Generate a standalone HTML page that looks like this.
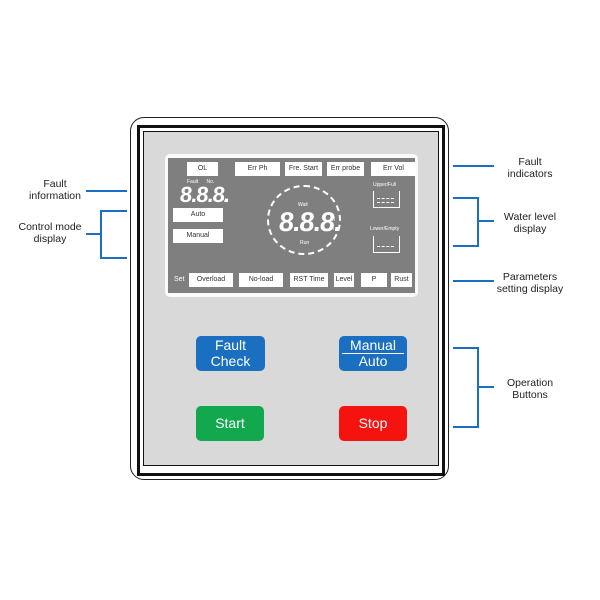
<!DOCTYPE html>
<html><head><style>
body{margin:0;width:600px;height:600px;background:#fff;position:relative;font-family:"Liberation Sans",sans-serif;overflow:hidden}
.a{position:absolute}
.lbl{position:absolute;font-size:10.5px;color:#222;text-align:center;line-height:12px}
.bx{position:absolute;background:#fff;font-size:7px;color:#333;text-align:center;line-height:14px;height:14px}
.btn{position:absolute;border-radius:5px;color:#fff;text-align:center;font-size:14px}
.seg{position:absolute;color:#fff;font-weight:bold;letter-spacing:-1px;transform:skewX(-6deg)}
</style></head><body>
<div class="a" style="left:130px;top:117px;width:317px;height:361px;border:1.5px solid #222;border-radius:14px"></div>
<div class="a" style="left:137px;top:125px;width:302px;height:345px;border:3px solid #111"></div>
<div class="a" style="left:143px;top:131px;width:294px;height:333px;border:1px solid #111;background:#d9d9d9"></div>
<div class="a" style="left:165px;top:154px;width:253px;height:143px;background:#fafafa;border-radius:5px"></div>
<div class="a" style="left:168px;top:158px;width:247px;height:135px;background:#7f7f7f"></div>
<div class="bx" style="left:187px;top:162px;width:31px">OL</div>
<div class="bx" style="left:235px;top:162px;width:45px">Err Ph</div>
<div class="bx" style="left:285px;top:162px;width:37px">Fre. Start</div>
<div class="bx" style="left:327px;top:162px;width:37px">Err probe</div>
<div class="bx" style="left:371px;top:162px;width:45px">Err Vol</div>
<div class="a" style="left:187px;top:179px;font-size:5px;color:#fff">Fault&nbsp;&nbsp;&nbsp;&nbsp;&nbsp;&nbsp;No.</div>
<div class="seg" style="left:180px;top:182px;font-size:22px">8.8.8.</div>
<div class="a" style="left:223px;top:198px;font-size:5px;color:#fff">V</div>
<div class="bx" style="left:173px;top:208px;width:50px">Auto</div>
<div class="bx" style="left:173px;top:229px;width:50px">Manual</div>
<div class="a" style="left:267px;top:185px;width:70px;height:66px;border:2px dashed #fff;border-radius:50%"></div>
<div class="a" style="left:298px;top:202px;font-size:5px;color:#fff">Wait</div>
<div class="seg" style="left:279px;top:207px;font-size:27px">8.8.8.</div>
<div class="a" style="left:330px;top:216px;font-size:6px;color:#fff;line-height:9px">M<br>A</div>
<div class="a" style="left:300px;top:240px;font-size:5px;color:#fff">Run</div>
<div class="a" style="left:373px;top:182px;font-size:5px;color:#fff">Upper/Full</div>
<div class="a" style="left:373px;top:191px;width:25px;height:16px;border:1.5px solid #fff;border-top:none"></div>
<div class="a" style="left:377px;top:198px;width:17px;border-top:1.5px dashed #fff"></div>
<div class="a" style="left:377px;top:202px;width:17px;border-top:1.5px dashed #fff"></div>
<div class="a" style="left:370px;top:226px;font-size:5px;color:#fff">Lower/Empty</div>
<div class="a" style="left:373px;top:236px;width:25px;height:16px;border:1.5px solid #fff;border-top:none"></div>
<div class="a" style="left:377px;top:246px;width:17px;border-top:1.5px dashed #fff"></div>
<div class="a" style="left:174px;top:276px;font-size:7px;color:#fff">Set</div>
<div class="bx" style="left:189px;top:273px;width:44px">Overload</div>
<div class="bx" style="left:239px;top:273px;width:44px">No-load</div>
<div class="bx" style="left:290px;top:273px;width:38px">RST Time</div>
<div class="bx" style="left:334px;top:273px;width:20px">Level</div>
<div class="bx" style="left:361px;top:273px;width:26px">P</div>
<div class="bx" style="left:391px;top:273px;width:21px">Rust</div>
<div class="btn" style="left:196px;top:336px;width:69px;background:#1a6fc1;line-height:16px;padding-top:1px;height:34px">Fault<br>Check</div>
<div class="btn" style="left:339px;top:336px;width:68px;height:34px;padding-top:1px;background:#1a6fc1;line-height:16px">Manual<br>Auto</div>
<div class="a" style="left:342px;top:353px;width:62px;border-top:1.5px solid #fff"></div>
<div class="btn" style="left:196px;top:406px;width:68px;height:35px;line-height:35px;background:#11a84e">Start</div>
<div class="btn" style="left:339px;top:406px;width:68px;height:35px;line-height:35px;background:#f5130f">Stop</div>
<svg class="a" style="left:0;top:0" width="600" height="600"><g stroke="#1a6fc1" stroke-width="2" fill="none">
<path d="M86 191H127"/><path d="M127 211H101V258H127M86 234H101"/>
<path d="M453 166H494"/><path d="M453 198H478V246H453M478 221H494"/>
<path d="M453 281H494"/><path d="M453 348H478V427H453M478 387H494"/></g></svg>
<div class="lbl" style="left:20px;top:178px;width:70px">Fault<br>information</div>
<div class="lbl" style="left:10px;top:221px;width:80px">Control mode<br>display</div>
<div class="lbl" style="left:495px;top:156px;width:70px">Fault<br>indicators</div>
<div class="lbl" style="left:495px;top:211px;width:70px">Water level<br>display</div>
<div class="lbl" style="left:490px;top:271px;width:80px">Parameters<br>setting display</div>
<div class="lbl" style="left:495px;top:377px;width:70px">Operation<br>Buttons</div>
</body></html>
